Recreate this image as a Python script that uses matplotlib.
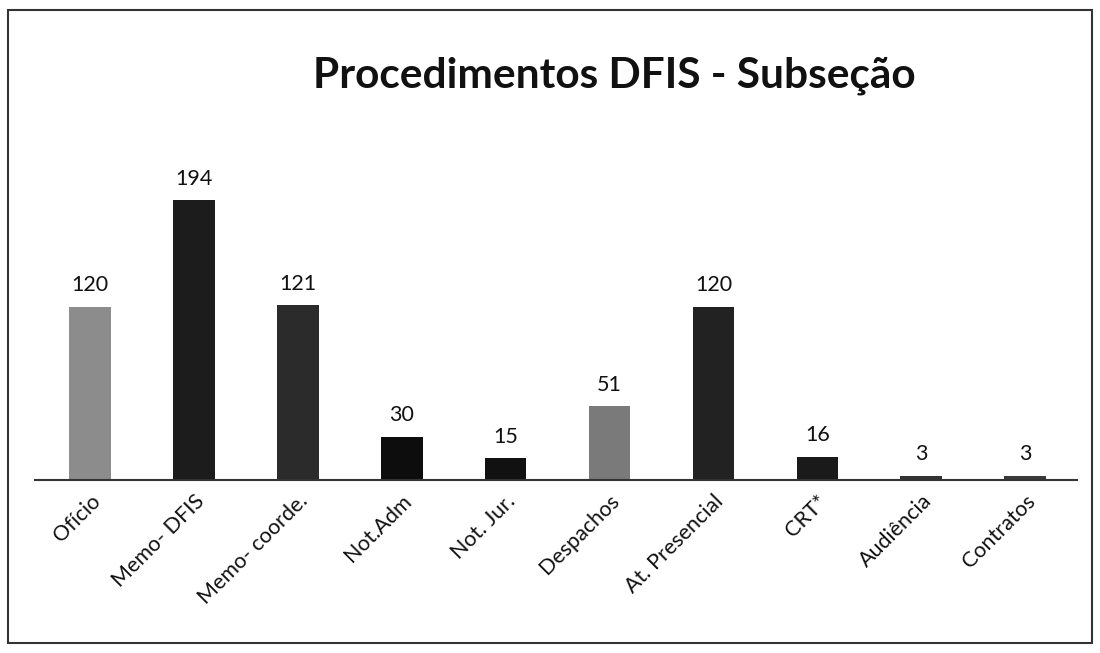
import matplotlib.pyplot as plt
from matplotlib.patches import Rectangle

categories = ["Ofício", "Memo- DFIS", "Memo- coorde.", "Not.Adm", "Not. Jur.",
              "Despachos", "At. Presencial", "CRT*", "Audiência", "Contratos"]
values = [120, 194, 121, 30, 15, 51, 120, 16, 3, 3]
bar_colors = ["#8c8c8c", "#1c1c1c", "#2b2b2b", "#0d0d0d", "#111111",
              "#7a7a7a", "#222222", "#1a1a1a", "#333333", "#3a3a3a"]

plt.rcParams['font.family'] = ['Lato', 'DejaVu Sans']

fig = plt.figure(figsize=(11, 6.53), dpi=100)
ax = fig.add_axes([35 / 1100, 0.265, (1077 - 35) / 1100, 0.486])

x = list(range(len(categories)))
bars = ax.bar(x, values, width=0.40, color=bar_colors)

for rect, v in zip(bars, values):
    ax.text(rect.get_x() + rect.get_width() / 2, rect.get_height() + 8, str(v),
            ha='center', va='bottom', fontsize=15.5, color='#111111')

ax.set_xlim(-0.53, 9.5)
ax.set_ylim(0, 220)
ax.set_xticks(x)
ax.set_xticklabels(categories, rotation=45, ha='right', rotation_mode='anchor',
                   fontsize=15.5, color='#111111')
ax.tick_params(axis='x', length=0, pad=8)
ax.set_yticks([])
for side in ['top', 'left', 'right']:
    ax.spines[side].set_visible(False)
ax.spines['bottom'].set_color('#333333')
ax.spines['bottom'].set_linewidth(1.5)

fig.text(614 / 1100, 1 - 76 / 653, "Procedimentos DFIS - Subseção", ha='center', va='center',
         fontsize=30.5, fontweight='bold', color='#111111')

# outer frame of the scanned chart
fig.patches.append(Rectangle((8 / 1100, 10 / 653), 1084 / 1100, 633 / 653,
                             transform=fig.transFigure, fill=False,
                             edgecolor='#333333', linewidth=1.5))

fig.savefig("out.png", dpi=100)
